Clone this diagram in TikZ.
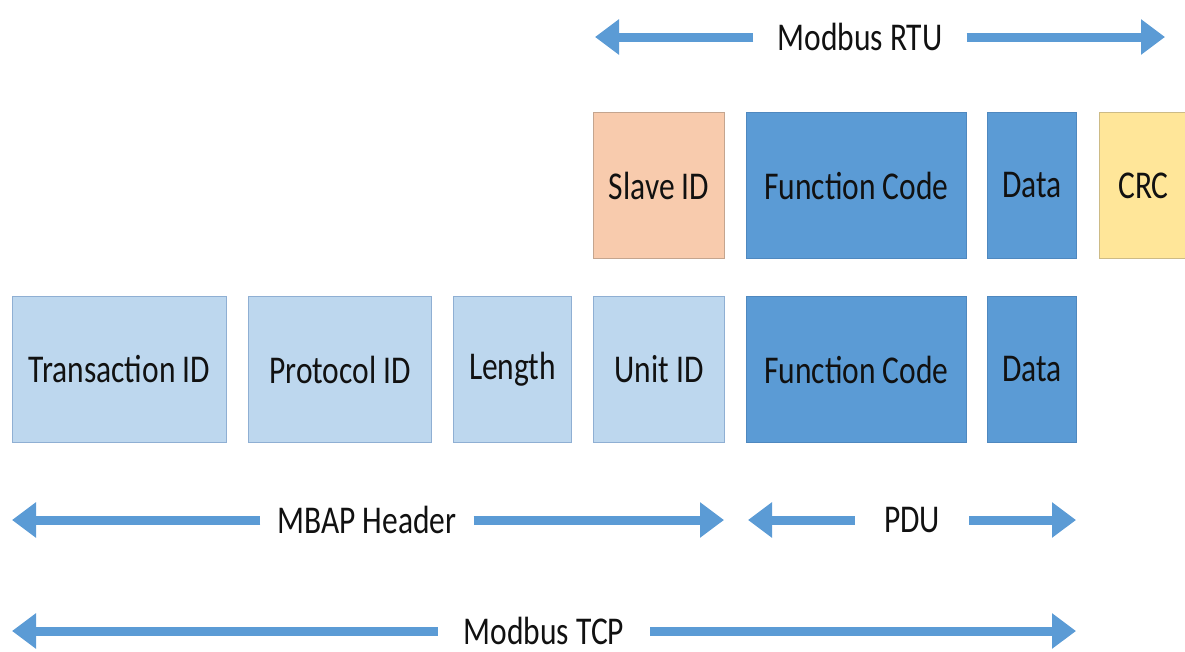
\documentclass[tikz,border=0pt]{standalone}
\usepackage{fontspec}
\setmainfont{Carlito}
\usetikzlibrary{arrows.meta}
\definecolor{lightfield}{HTML}{BDD7EE}
\definecolor{lightedge}{HTML}{8FAFD3}
\definecolor{midfield}{HTML}{5B9BD5}
\definecolor{midedge}{HTML}{4F88BF}
\definecolor{slavefield}{HTML}{F8CBAD}
\definecolor{slaveedge}{HTML}{C4A58F}
\definecolor{crcfield}{HTML}{FFE699}
\definecolor{crcedge}{HTML}{CDBB86}
\definecolor{arrowblue}{HTML}{5B9BD5}
\definecolor{inkcol}{HTML}{111111}
\newcommand{\lbl}[1]{\scalebox{1}[1.25]{#1}}
\tikzset{
  field/.style={draw, line width=1pt, anchor=north west, inner sep=0pt,
    font=\fontsize{31.5}{33}\selectfont, text=inkcol},
  light/.style={field, fill=lightfield, draw=lightedge},
  mid/.style={field, fill=midfield, draw=midedge},
  span/.style={font=\fontsize{31.5}{33}\selectfont, text=inkcol, inner ysep=1pt},
  spanarrow/.style={draw=arrowblue, line width=9pt,
    -{Triangle[width=34pt,length=24pt]}}
}
\begin{document}
\begin{tikzpicture}[x=1pt,y=-1pt]
\useasboundingbox (0,0) rectangle (1185,651);

% RTU frame
\node[field, fill=slavefield, draw=slaveedge, minimum width=131pt, minimum height=146pt] (slave) at (593,112) {\lbl{Slave ID}};
\node[mid, minimum width=220pt, minimum height=146pt] (fcrtu) at (746,112) {\lbl{Function Code}};
\node[mid, minimum width=89pt, minimum height=146pt] (datartu) at (987,112) {\lbl{Data}};
\node[field, fill=crcfield, draw=crcedge, minimum width=88pt, minimum height=146pt] (crc) at (1099,112) {\lbl{CRC}};

% TCP frame
\node[light, minimum width=214pt, minimum height=146pt] (trans) at (12,296) {\lbl{Transaction ID}};
\node[light, minimum width=183pt, minimum height=146pt] (proto) at (248,296) {\lbl{Protocol ID}};
\node[light, minimum width=118pt, minimum height=146pt] (len) at (453,296) {\lbl{Length}};
\node[light, minimum width=131pt, minimum height=146pt] (unit) at (593,296) {\lbl{Unit ID}};
\node[mid, minimum width=220pt, minimum height=146pt] (fctcp) at (746,296) {\lbl{Function Code}};
\node[mid, minimum width=89pt, minimum height=146pt] (datatcp) at (987,296) {\lbl{Data}};

% span labels
\node[span, inner xsep=24pt] (rtu) at (860,37) {\lbl{Modbus RTU}};
\node[span, inner xsep=17pt] (mbap) at (367,520) {\lbl{MBAP Header}};
\node[span, inner xsep=29pt] (pdu) at (912,520) {\lbl{PDU}};
\node[span, inner xsep=26pt] (tcp) at (544,631) {\lbl{Modbus TCP}};

% span arrow ends
\coordinate (rtuL) at (595,37);
\coordinate (rtuR) at (1165,37);
\coordinate (mbapL) at (12,520);
\coordinate (mbapR) at (724,520);
\coordinate (pduL) at (748,520);
\coordinate (pduR) at (1076,520);
\coordinate (tcpL) at (12,631);
\coordinate (tcpR) at (1076,631);

\draw[spanarrow] (rtu.west) -- (rtuL);
\draw[spanarrow] (rtu.east) -- (rtuR);
\draw[spanarrow] (mbap.west) -- (mbapL);
\draw[spanarrow] (mbap.east) -- (mbapR);
\draw[spanarrow] (pdu.west) -- (pduL);
\draw[spanarrow] (pdu.east) -- (pduR);
\draw[spanarrow] (tcp.west) -- (tcpL);
\draw[spanarrow] (tcp.east) -- (tcpR);
\end{tikzpicture}
\end{document}
